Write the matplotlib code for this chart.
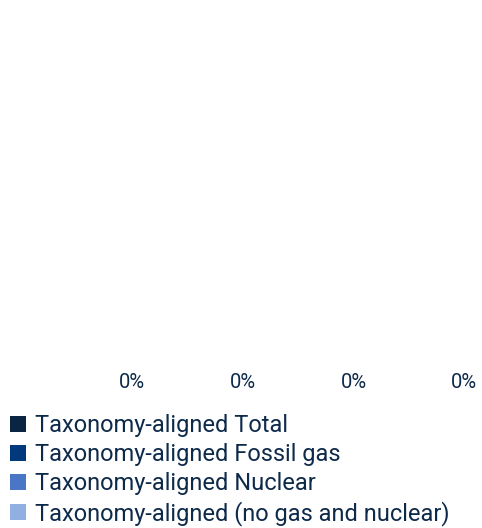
import matplotlib.pyplot as plt
from matplotlib.patches import Patch

plt.rcParams['font.family'] = ['Roboto', 'DejaVu Sans']

years = ["2019", "2020", "2021", "2022"]
values = [0, 0, 0, 0]
labels = ["0%", "0%", "0%", "0%"]

series = ["Taxonomy-aligned Total",
          "Taxonomy-aligned Fossil gas",
          "Taxonomy-aligned Nuclear",
          "Taxonomy-aligned (no gas and nuclear)"]
colors = ["#0a2444", "#003a7d", "#4a77c5", "#8fb0e0"]
text_color = "#0e2a4a"

fig = plt.figure(figsize=(4.82, 5.28), dpi=100)
W, H = 482, 528
ax = fig.add_axes([77 / W, 1 - 395 / H, 405 / W, 385 / H])

x = range(len(years))
bars = ax.bar(x, values, width=0.6, color=colors[0])
ax.set_xlim(-0.5, 3.16)
ax.set_ylim(0, 100)
for xi, v, lab in zip(x, values, labels):
    ax.annotate(lab, (xi, v), xytext=(0, 2), textcoords="offset points",
                ha="center", va="bottom", fontsize=14.5, color=text_color)
ax.axis("off")

handles = [Patch(facecolor=c, edgecolor="none") for c in colors]
leg = fig.legend(handles, series, loc="upper left", bbox_to_anchor=(3 / W, 1 - 407 / H),
                 frameon=False, fontsize=17, handlelength=0.67, handleheight=0.67,
                 handletextpad=0.38, labelspacing=0.25, borderaxespad=0, borderpad=0.3)
for t in leg.get_texts():
    t.set_color(text_color)

fig.savefig("out.png", dpi=100)
